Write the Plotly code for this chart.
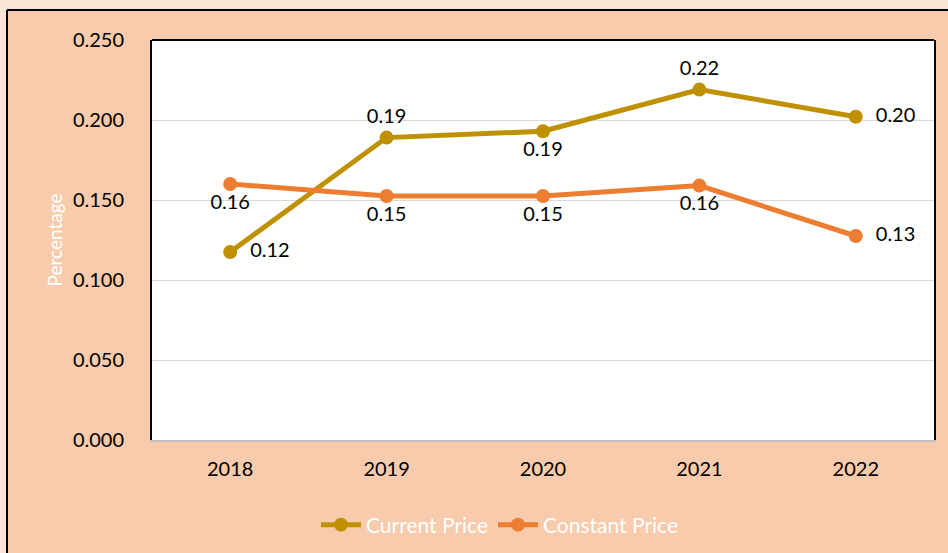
import plotly.graph_objects as go

years = ["2018", "2019", "2020", "2021", "2022"]
current_price = [0.1175, 0.189, 0.193, 0.219, 0.202]
constant_price = [0.160, 0.1525, 0.1525, 0.159, 0.1275]
current_pos = ["middle right", "top center", "bottom center", "top center", "middle right"]
constant_pos = ["bottom center", "bottom center", "bottom center", "bottom center", "middle right"]
y_ticks = [0.0, 0.05, 0.10, 0.15, 0.20, 0.25]

FONT = "Lato, 'Open Sans', sans-serif"
FS = 20
NB = "\u00a0\u00a0"

def label_tpl(positions):
    return [(NB + "%{y:.2f}") if p == "middle right" else "%{y:.2f}" for p in positions]

fig = go.Figure()
fig.add_trace(go.Scatter(
    x=years, y=current_price, mode="lines+markers+text", name="Current Price",
    line=dict(color="#BF9000", width=5), marker=dict(size=14, color="#BF9000"),
    texttemplate=label_tpl(current_pos), textposition=current_pos,
    textfont=dict(size=FS, color="#000000", family=FONT), cliponaxis=False,
))
fig.add_trace(go.Scatter(
    x=years, y=constant_price, mode="lines+markers+text", name="Constant Price",
    line=dict(color="#ED7D31", width=5), marker=dict(size=14, color="#ED7D31"),
    texttemplate=label_tpl(constant_pos), textposition=constant_pos,
    textfont=dict(size=FS, color="#000000", family=FONT), cliponaxis=False,
))

L, R, T, B = 152, 14, 40, 113
W, H = 948, 553
pw, ph = W - L - R, H - T - B

def px(x):
    return (x - L) / pw

def py(y):
    return (H - B - y) / ph

# light outer strips (top and left) and the black frame of the chart box
fig.add_shape(type="rect", xref="paper", yref="paper",
              x0=px(-5), x1=px(960), y0=py(10), y1=py(-5),
              fillcolor="#FCE4D6", line=dict(width=0), layer="below")
fig.add_shape(type="rect", xref="paper", yref="paper",
              x0=px(-5), x1=px(7), y0=py(-5), y1=py(570),
              fillcolor="#FCE4D6", line=dict(width=0), layer="below")
fig.add_shape(type="line", xref="paper", yref="paper",
              x0=px(7), x1=px(960), y0=py(10), y1=py(10),
              line=dict(color="#000000", width=2))
fig.add_shape(type="line", xref="paper", yref="paper",
              x0=px(7), x1=px(7), y0=py(10), y1=py(570),
              line=dict(color="#000000", width=2))
fig.add_shape(type="line", xref="paper", yref="paper", x0=0, x1=1, y0=1, y1=1,
              line=dict(color="#000000", width=2))

fig.update_layout(
    width=W, height=H,
    margin=dict(l=L, r=R, t=T, b=B, autoexpand=False),
    paper_bgcolor="#F8CBAD", plot_bgcolor="#FFFFFF",
    font=dict(family=FONT, size=FS, color="#000000"),
    showlegend=True,
    legend=dict(orientation="h", x=px(500), xanchor="center", y=py(525), yanchor="middle",
                font=dict(size=21, color="#FFFFFF", family=FONT), bgcolor="rgba(0,0,0,0)",
                itemwidth=40),
    xaxis=dict(type="category", range=[-0.5, 4.5], showgrid=False,
               showline=True, linecolor="#BFBFBF", linewidth=2, ticks="",
               tickfont=dict(size=FS, color="#000000"), ticklabelstandoff=10),
    yaxis=dict(range=[0, 0.25], tickvals=y_ticks, tickformat=".3f",
               showgrid=True, gridcolor="#D9D9D9", gridwidth=1,
               showline=True, linecolor="#000000", linewidth=2, mirror=True,
               zeroline=False, ticks="", ticklabelstandoff=22,
               tickfont=dict(size=FS, color="#000000"),
               title=dict(text="Percentage", font=dict(size=19, color="#FFFFFF"), standoff=5)),
)

fig.write_html("out.html", config={"displayModeBar": False},
               post_script="document.body.style.margin='0';document.body.style.background='#FCE4D6';")
